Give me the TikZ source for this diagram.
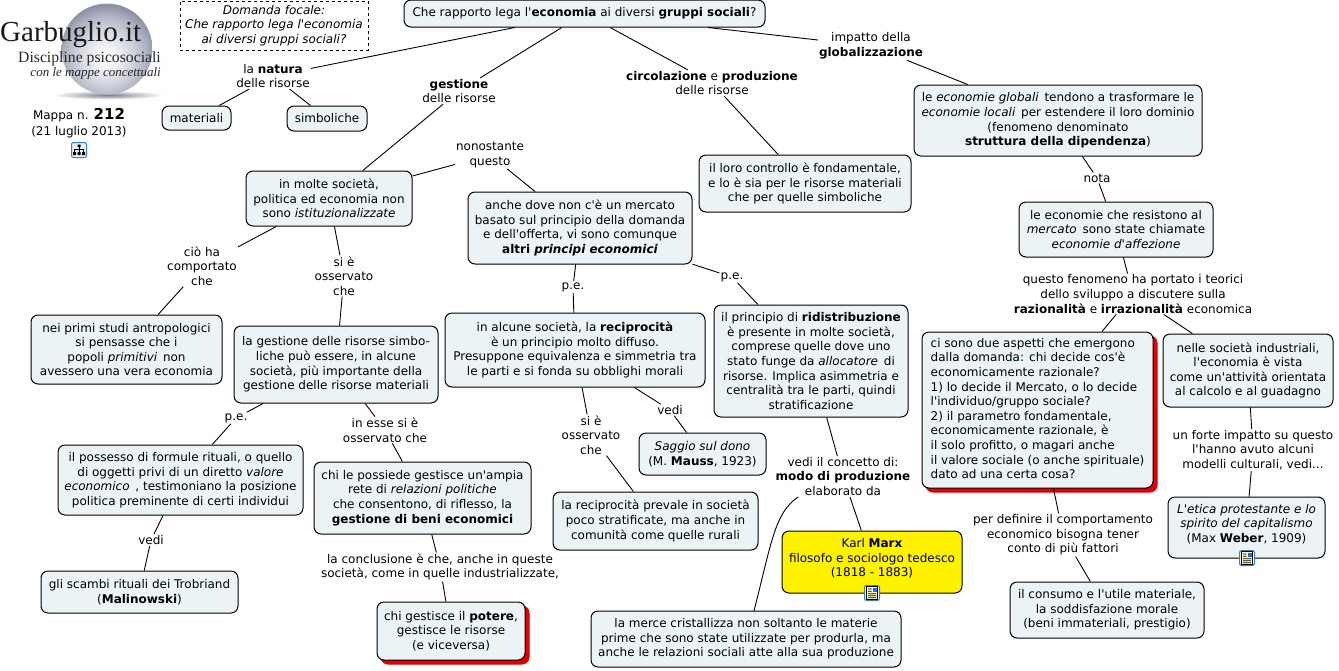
\documentclass[tikz,border=0pt]{standalone}
\usepackage{fontspec}
\setmainfont{DejaVu Sans}
\newfontfamily\mainf{DejaVu Sans}
\newfontfamily\logofont{Liberation Serif}
\usetikzlibrary{shadows}
\definecolor{boxfill}{HTML}{ECF3F6}
\definecolor{iconblue}{HTML}{3B7FC4}
\definecolor{shadowred}{HTML}{E40000}
\definecolor{pearlb}{HTML}{F0F0F4}
\definecolor{pearlc}{HTML}{D2D4DE}
\definecolor{pearld}{HTML}{B2B5C5}
\definecolor{pearle}{HTML}{8C8FA3}
\definecolor{pearlf}{HTML}{BABCC8}
\definecolor{groundc}{HTML}{7C8092}
\pgfdeclareradialshading{pearl}{\pgfpoint{-1bp}{-5bp}}{
  color(0bp)=(white);
  color(7bp)=(pearlb);
  color(15bp)=(pearlc);
  color(22bp)=(pearld);
  color(28bp)=(pearle);
  color(31bp)=(pearlf);
  color(100bp)=(pearlf)}
\tikzset{
  base/.style={font=\mainf\fontsize{12}{14.6}\selectfont,text=black,align=center,inner sep=1pt},
  box/.style={base,draw=black,line width=1pt,rounded corners=7pt,fill=boxfill,inner sep=0pt},
  lab/.style={base},
  link/.style={draw=black,line width=0.9pt},
  iconbox/.style={draw=iconblue,line width=1pt,fill=white,rounded corners=2pt,minimum size=15pt,inner sep=0pt},
  redshadow/.style={general shadow={shadow xshift=4pt,shadow yshift=-4pt,fill=shadowred,draw=shadowred,rounded corners=7pt}},
}
\newcommand{\bx}[7][]{\node[box,#1,minimum width={(#5-#3)*1pt},minimum height={(#6-#4)*1pt}] (#2) at ({(#3+#5)/2},{(#4+#6)/2}) {#7};}
\newcommand{\lb}[4]{\node[lab] (#1) at (#2,#3) {#4};}
\newcommand{\upa}{\\[-10.5pt]\strut}
\begin{document}
\begin{tikzpicture}[x=1pt,y=-1pt]
\useasboundingbox (0,0) rectangle (1339,670);
% logo
\shade[inner color=groundc,outer color=white] (108,95) ellipse (56 and 4.5);
\shade[shading=pearl] (107,49) circle (45.5);
\node[anchor=base west,inner sep=0,text=black!90,font=\logofont\fontsize{29}{29}\selectfont] (logoa) at (0,41) {Garbuglio.it};
\node[anchor=base east,inner sep=0,text=black!85,font=\logofont\fontsize{15.7}{16}\selectfont] (logob) at (161,62) {Discipline psicosociali};
\node[anchor=base east,inner sep=0,text=black!85,font=\logofont\itshape\fontsize{13}{14}\selectfont] (logoc) at (161,76) {con le mappe concettuali};
\node[lab] (mappa) at (79,123) {Mappa n. {\fontsize{15}{15}\selectfont\bfseries 212}\\[1.5pt](21 luglio 2013)};
\node[iconbox,fill=iconblue!12] (iconm) at (79,150) {};
\draw[black,line width=.7pt] (79,147) -- (79,149) (74.5,149) -- (83.5,149) (74.5,149) -- (74.5,152) (83.5,149) -- (83.5,152) (79,149) -- (79,152);
\fill[black] (77.5,144.5) rectangle (80.5,147) (73,152) rectangle (76,155) (77.5,152) rectangle (80.5,155) (82,152) rectangle (85,155);
% boxes
\node[base,draw=black,dashed,line width=.9pt,minimum width=188pt,minimum height=49pt,inner sep=0pt] (focal) at (274,25.5) {\itshape Domanda focale:\\\itshape Che rapporto lega l'economia\\\itshape ai diversi gruppi sociali?};
\bx{root}{404}{0}{765}{27}{Che rapporto lega l'\textbf{economia} ai diversi \textbf{gruppi sociali}?}
\bx{mat}{162}{106}{231}{130}{materiali}
\bx{sim}{287}{106}{367}{131}{simboliche}
\bx{A}{246}{171}{412}{226}{in molte società,\\politica ed economia non\\sono \textit{istituzionalizzate}}
\bx{B}{468}{192}{692}{264}{anche dove non c'è un mercato\\basato sul principio della domanda\\e dell'offerta, vi sono comunque\\\textbf{altri \textit{principi economici}}}
\bx{C}{699}{155}{911}{212}{il loro controllo è fondamentale,\\e lo è sia per le risorse materiali\\che per quelle simboliche}
\bx{D}{914}{85}{1202}{156}{le \textit{economie globali}\, tendono a trasformare le\\\textit{economie locali}\, per estendere il loro dominio\\(fenomeno denominato\\\textbf{struttura della dipendenza})}
\bx{E}{1019}{202}{1213}{257}{le economie che resistono al\\\textit{mercato}\, sono state chiamate\\\textit{economie d'affezione}}
\bx{F}{31}{315}{222}{384}{nei primi studi antropologici\\si pensasse che i\\popoli \textit{primitivi}\, non\\avessero una vera economia}
\bx{G}{234}{326}{438}{403}{la gestione delle risorse simbo-\\liche può essere, in alcune\\società, più importante della\\gestione delle risorse materiali}
\bx{H}{445}{313}{705}{387}{in alcune società, la \textbf{reciprocità}\\è un principio molto diffuso.\\Presuppone equivalenza e simmetria tra\\le parti e si fonda su obblighi morali}
\bx{I}{714}{305}{908}{417}{il principio di \textbf{ridistribuzione}\\è presente in molte società,\\comprese quelle dove uno\\stato funge da \textit{allocatore}\, di\\risorse. Implica asimmetria e\\centralità tra le parti, quindi\\stratificazione}
\bx[redshadow]{J}{922}{332}{1153}{488}{\begin{tabular}{@{}l@{}}ci sono due aspetti che emergono\\dalla domanda: chi decide cos'è\\economicamente razionale?\\1) lo decide il Mercato, o lo decide\\l'individuo/gruppo sociale?\\2) il parametro fondamentale,\\economicamente razionale, è\\il solo profitto, o magari anche\\il valore sociale (o anche spirituale)\\dato ad una certa cosa?\end{tabular}}
\bx{K}{1163}{334}{1333}{407}{nelle società industriali,\\l'economia è vista\\come un'attività orientata\\al calcolo e al guadagno}
\bx{L}{58}{445}{303}{515}{il possesso di formule rituali, o quello\\di oggetti privi di un diretto \textit{valore}\\\textit{economico}\, , testimoniano la posizione\\politica preminente di certi individui}
\bx{M}{314}{462}{531}{534}{chi le possiede gestisce un'ampia\\rete di \textit{relazioni politiche}\\che consentono, di riflesso, la\\\textbf{gestione di beni economici}}
\bx{N}{639}{433}{766}{475}{\textit{Saggio sul dono}\\(M. \textbf{Mauss}, 1923)}
\bx{O}{553}{492}{758}{550}{la reciprocità prevale in società\\poco stratificate, ma anche in\\comunità come quelle rurali}
\bx{P}{1168}{497}{1325}{558}{\textit{L'etica protestante e lo}\\\textit{spirito del capitalismo}\\(Max \textbf{Weber}, 1909)\upa}
\bx[fill=yellow]{Q}{782}{531}{962}{593}{Karl \textbf{Marx}\\filosofo e sociologo tedesco\\(1818 - 1883)\upa}
\bx{R}{41}{571}{238}{613}{gli scambi rituali dei Trobriand\\(\textbf{Malinowski})}
\bx[redshadow]{S}{377}{602}{525}{660}{chi gestisce il \textbf{potere},\\gestisce le risorse\\(e viceversa)}
\bx{T}{591}{611}{901}{667}{la merce cristallizza non soltanto le materie\\prime che sono state utilizzate per produrla, ma\\anche le relazioni sociali atte alla sua produzione}
\bx{U}{1010}{582}{1204}{638}{il consumo e l'utile materiale,\\la soddisfazione morale\\(beni immateriali, prestigio)}
% labels
\lb{natura}{273}{76}{la \textbf{natura}\\delle risorse}
\lb{gest}{459}{91}{\textbf{gestione}\\delle risorse}
\lb{circ}{712}{83}{\textbf{circolazione} e \textbf{produzione}\\delle risorse}
\lb{imp}{871}{46}{impatto della\\\textbf{globalizzazione}}
\lb{non}{490}{155}{nonostante\\questo}
\lb{cioha}{202}{266}{ciò ha\\comportato\\che}
\lb{sie}{344}{276}{si è\\osservato\\che}
\lb{pea}{573}{287}{p.e.}
\lb{peb}{732}{277}{p.e.}
\lb{nota}{1097}{178}{nota}
\lb{fen}{1133}{294}{questo fenomeno ha portato i teorici\\dello sviluppo a discutere sulla\\\textbf{razionalità} e \textbf{irrazionalità} economica}
\lb{pec}{236}{418}{p.e.}
\lb{ine}{385}{430}{in esse si è\\osservato che}
\lb{sib}{591}{435}{si è\\osservato\\che}
\lb{veda}{670}{410}{vedi}
\lb{con}{843}{476.5}{vedi il concetto di:\\\textbf{modo di produzione}\\elaborato da}
\lb{per}{1063}{535}{per definire il comportamento\\economico bisogna tener\\conto di più fattori}
\lb{for}{1253}{450}{un forte impatto su questo\\l'hanno avuto alcuni\\modelli culturali, vedi...}
\lb{vedb}{151}{540}{vedi}
\lb{conc}{440}{567}{la conclusione è che, anche in queste\\società, come in quelle industrializzate,}
% connectors
\foreach \a/\b in {root/natura,root/gest,root/circ,root/imp,natura/mat,natura/sim,gest/A,circ/C,imp/D,A/non,non/B,A/cioha,A/sie,cioha/F,sie/G,B/pea,B/peb,pea/H,peb/I,G/pec,G/ine,pec/L,ine/M,H/sib,H/veda,sib/O,veda/N,I/con,con/Q,D/nota,nota/E,E/fen,fen/J,fen/K,J/per,per/U,K/for,for/P,L/vedb,vedb/R,M/conc,conc/S}
  \draw[link] (\a) -- (\b);
\coordinate (cs) at (798,497);
\coordinate (ct) at (754,611);
\draw[link] (cs) .. controls (775,513) and (772,540) .. (ct);
% icons
\node[iconbox] (icond) at (872,593) {};
\node[iconbox] (icone) at (1247,558) {};
\foreach \n in {icond,icone}{
  \fill[yellow!25,draw=black,line width=.7pt] ([shift={(-5.5,-6.5)}]\n.center) rectangle ([shift={(5.5,6.5)}]\n.center);
  \fill[black] ([shift={(-4,-4.5)}]\n.center) rectangle ([shift={(-.5,-3.7)}]\n.center) ([shift={(-4,-2.2)}]\n.center) rectangle ([shift={(-.5,-1.4)}]\n.center) ([shift={(-4,.3)}]\n.center) rectangle ([shift={(4,1.1)}]\n.center) ([shift={(-4,2.4)}]\n.center) rectangle ([shift={(4,3.2)}]\n.center) ([shift={(-4,4.4)}]\n.center) rectangle ([shift={(4,5.2)}]\n.center);
  \fill[blue!55!cyan] ([shift={(.5,-5)}]\n.center) rectangle ([shift={(4.5,-1.2)}]\n.center);
  \fill[red!70] ([shift={(2.5,-4.5)}]\n.center) rectangle ([shift={(4,-3)}]\n.center);
}
\end{tikzpicture}
\end{document}
